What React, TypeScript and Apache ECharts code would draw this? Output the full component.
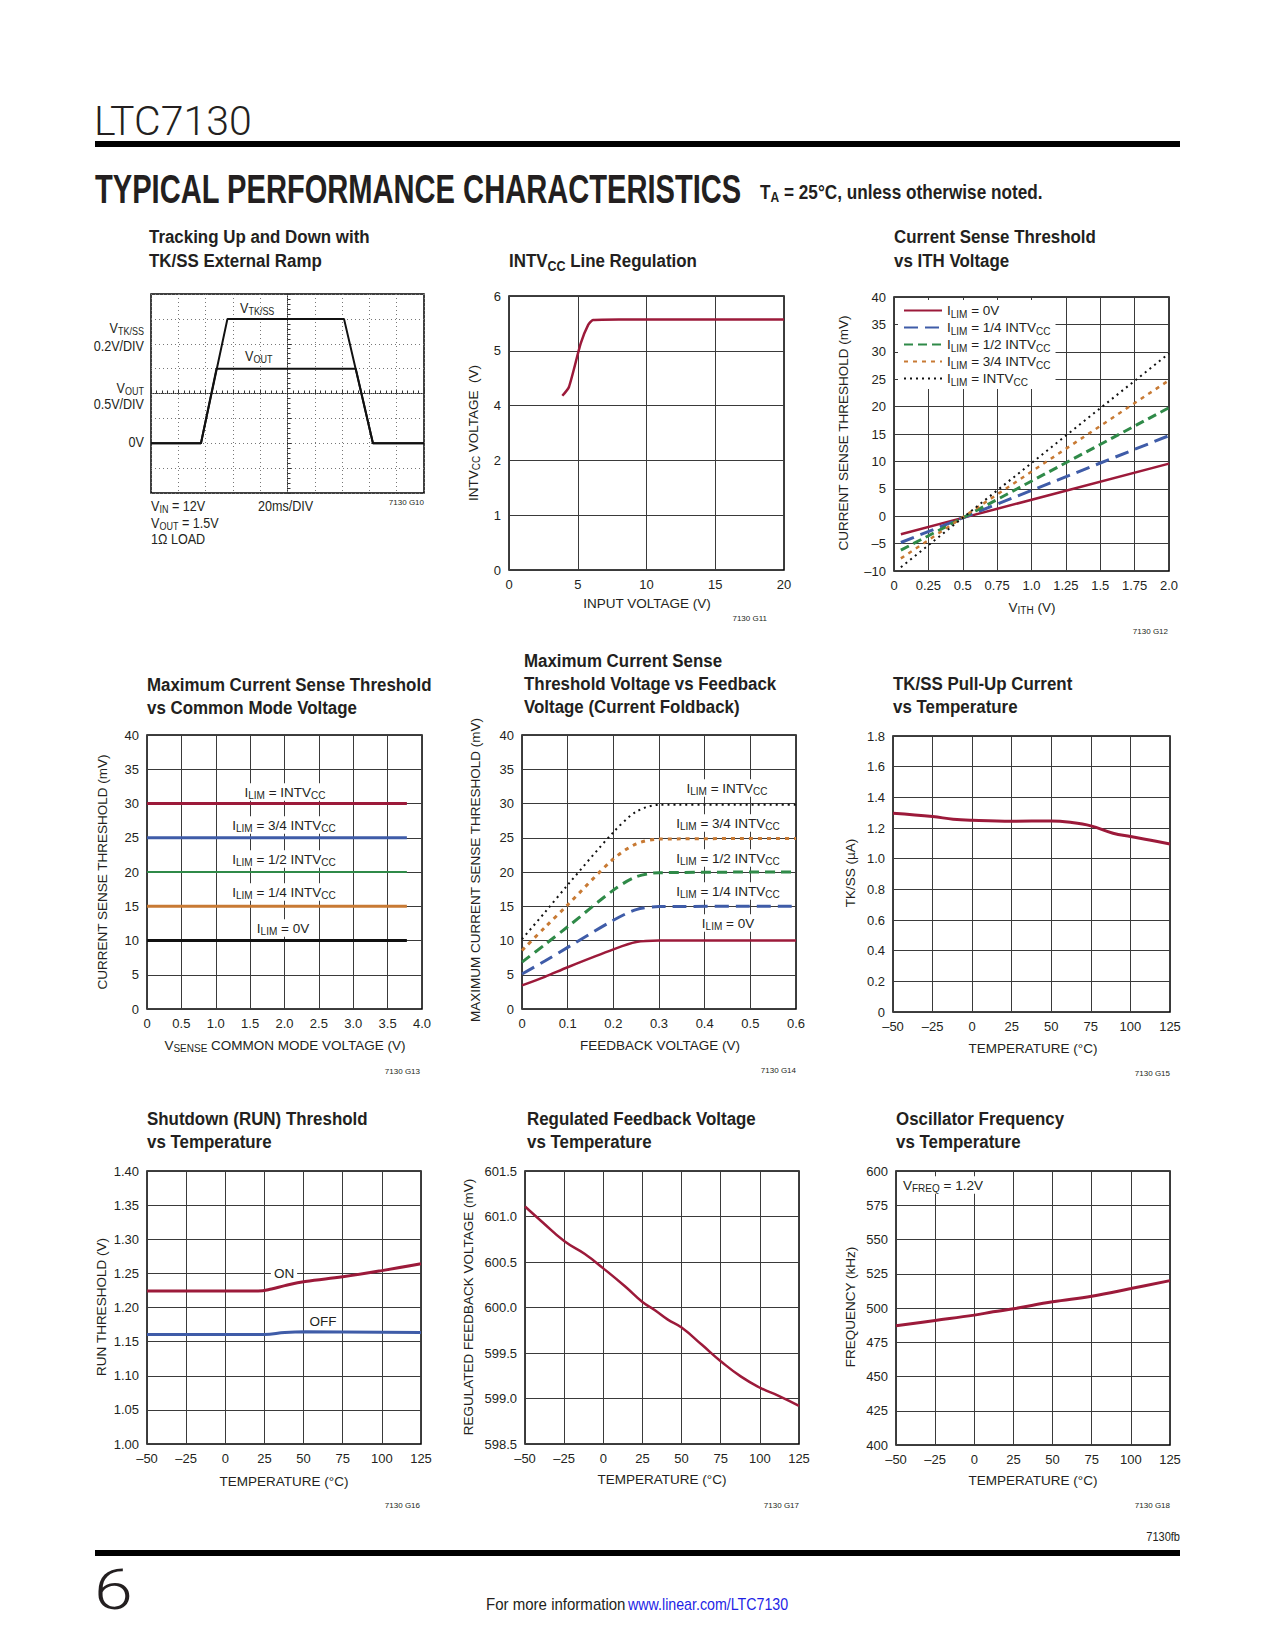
import React, { useEffect, useRef } from 'react';
import * as echarts from 'echarts';

// ---------------- DATA ----------------
// G10 scope traces, in divisions from screen centre (x: 20ms/div, y: div)
const scopeVtkX = [-5, -3.17, -2.2, 2.07, 3.13, 5];
const scopeVtkY = [-2, -2, 3, 3, -2, -2];
const scopeVoutX = [-5, -3.17, -2.6, 2.5, 3.13, 5];
const scopeVoutY = [-2, -2, 1, 1, -2, -2];

// G11 INTVcc line regulation
const intvX = [3.88, 4.36, 5.21, 5.75, 6.11, 8, 20];
const intvY = [4.18, 4.34, 5.13, 5.47, 5.56, 5.57, 5.57];
const intvTicks = [0, 1, 2, 4, 5, 6];

// G12 current sense threshold vs ITH
const ithX = [0.05, 0.5, 2.0];
const ith0 = [-3.3, -0.3, 9.6];
const ith14 = [-4.8, -0.3, 14.7];
const ith12 = [-6.2, -0.3, 19.8];
const ith34 = [-7.7, -0.2, 24.8];
const ith1 = [-9.3, -0.3, 29.7];

// G13 max current sense threshold vs common mode
const cmX = [0, 3.78];
const cm1 = [30, 30];
const cm34 = [25, 25];
const cm12 = [20, 20];
const cm14 = [15, 15];
const cm0 = [10, 10];

// G14 foldback
const fbX = [0, 0.05, 0.1, 0.2, 0.25, 0.3, 0.6];
const fb0 = [3.45, 4.7, 6.1, 8.7, 9.77, 10.0, 10.0];
const fb14 = [5.1, 7.0, 9.0, 12.95, 14.5, 14.95, 15.0];
const fb12 = [6.85, 9.4, 12.0, 17.35, 19.3, 19.9, 20.0];
const fb34 = [8.55, 11.9, 15.2, 21.9, 24.1, 24.8, 24.9];
const fb1 = [10.2, 14.1, 18.1, 25.8, 28.8, 29.8, 29.8];

// G15 TK/SS pull-up current
const tkX = [-50, -25, -12, 0, 25, 50, 62, 75, 89, 100, 112, 125];
const tkY = [1.296, 1.275, 1.257, 1.25, 1.244, 1.246, 1.237, 1.214, 1.166, 1.144, 1.122, 1.096];

// G16 RUN threshold
const onX = [-50, 0, 21, 29.5, 38, 51, 75, 100, 125];
const onY = [1.224, 1.224, 1.224, 1.227, 1.232, 1.238, 1.245, 1.254, 1.264];
const offX = [-50, 25, 38, 51, 125];
const offY = [1.1605, 1.1605, 1.1634, 1.1644, 1.1634];

// G17 regulated feedback voltage
const rfX = [-50, -39, -25, -12, 0, 14, 25, 33, 41, 50, 63, 75, 88, 100, 112, 125];
const rfY = [601.11, 600.94, 600.73, 600.59, 600.43, 600.23, 600.06, 599.97, 599.87, 599.78, 599.59, 599.41, 599.24, 599.12, 599.03, 598.92];

// G18 oscillator frequency
const osX = [-50, -25, 0, 12, 25, 50, 75, 100, 125];
const osY = [487.0, 490.9, 494.8, 497.2, 499.4, 504.5, 508.6, 514.2, 520.0];

const ilimNames = ['ILIM = 0V', 'ILIM = 1/4 INTVCC', 'ILIM = 1/2 INTVCC', 'ILIM = 3/4 INTVCC', 'ILIM = INTVCC'];
const ilimRich = [
  '{n|I}{s|LIM}{n| = 0V}',
  '{n|I}{s|LIM}{n| = 1/4 INTV}{s|CC}',
  '{n|I}{s|LIM}{n| = 1/2 INTV}{s|CC}',
  '{n|I}{s|LIM}{n| = 3/4 INTV}{s|CC}',
  '{n|I}{s|LIM}{n| = INTV}{s|CC}',
];

// ---------------- STYLE ----------------
const RED = '#9c1a3a';
const BLUE = '#3f5ca8';
const GREEN = '#2f8a48';
const ORANGE = '#c87a34';
const INK = '#231f20';
const FONT = 'Liberation Sans, Arial, sans-serif';

const zip = (xs: number[], ys: number[]) => xs.map((x, i) => [x, ys[i]]);
const dash = (v: number) => (v < 0 ? '\u2013' + Math.abs(v) : String(v));

const rich = (size: number, weight = 'normal') => ({
  n: { fontFamily: FONT, fontSize: size, fontWeight: weight, lineHeight: size + 2, verticalAlign: 'middle', fill: INK, color: INK },
  s: {
    fontFamily: FONT, fontSize: Math.round(size * 0.74), fontWeight: weight, lineHeight: Math.round(size * 0.74),
    padding: [Math.round(size * 0.5), 0, 0, 0], verticalAlign: 'middle', fill: INK, color: INK,
  },
});

function T(text: string, x: number, y: number, o: any = {}) {
  const align = o.align || 'left';
  const style: any = {
    text,
    fill: o.color || INK,
    fontFamily: o.family || FONT,
    fontSize: o.size || 13.5,
    fontWeight: o.weight || 'normal',
    align,
    textAlign: align,
    verticalAlign: 'middle',
    textVerticalAlign: 'middle',
  };
  if (o.rich) style.rich = o.rich;
  if (o.bg) {
    style.backgroundColor = o.bg;
    style.padding = [1, 3, 1, 3];
  }
  return {
    type: 'text',
    x,
    y,
    z: 100,
    silent: true,
    rotation: o.rot || 0,
    scaleX: o.sx || 1,
    style,
  };
}

const GRIDS = [
  { left: 151, top: 294, width: 273, height: 199 },
  { left: 509, top: 296, width: 275, height: 274 },
  { left: 894, top: 297, width: 275, height: 274 },
  { left: 147, top: 735, width: 275, height: 274 },
  { left: 522, top: 735, width: 274, height: 274 },
  { left: 893, top: 736, width: 277, height: 276 },
  { left: 147, top: 1171, width: 274, height: 273 },
  { left: 525, top: 1171, width: 274, height: 273 },
  { left: 896, top: 1171, width: 274, height: 274 },
];

const labelStyle = { fontFamily: FONT, fontSize: 13, color: INK };

function xAx(i: number, min: number, max: number, interval: number, fmt: (v: number) => string) {
  return {
    gridIndex: i, type: 'value', min, max, interval,
    axisLine: { show: false }, axisTick: { show: false },
    splitLine: { show: true, lineStyle: { color: '#3a3a3a', width: 1 } },
    axisLabel: { ...labelStyle, margin: 8, formatter: fmt },
  };
}
function yAx(i: number, min: number, max: number, interval: number, fmt: (v: number) => string) {
  return {
    gridIndex: i, type: 'value', min, max, interval,
    axisLine: { show: false }, axisTick: { show: false },
    splitLine: { show: true, lineStyle: { color: '#3a3a3a', width: 1 } },
    axisLabel: { ...labelStyle, margin: 8, formatter: fmt },
  };
}

function line(name: string, gi: number, data: number[][], color: string, width: number, type: any = 'solid', smooth: any = false) {
  return {
    type: 'line', name, xAxisIndex: gi, yAxisIndex: gi, data,
    symbol: 'none', showSymbol: false, smooth, z: 5,
    lineStyle: { color, width, type, cap: 'butt' },
    itemStyle: { color },
  };
}

function buildOption() {
  const grid = GRIDS.map((g) => ({
    ...g, show: true, borderColor: '#000', borderWidth: 1.5,
    backgroundColor: 'rgba(0,0,0,0)', containLabel: false, outerBoundsMode: 'none',
  }));

  const fmt1 = (v: number) => (v === 0 ? '0' : v.toFixed(1));
  const xAxis: any[] = [
    {
      gridIndex: 0, type: 'value', min: -5, max: 5, interval: 1,
      axisLine: { show: true, onZero: true, lineStyle: { color: '#333', width: 1, type: 'dotted' } },
      axisTick: { show: true, inside: true, length: 4, lineStyle: { color: '#333' } },
      minorTick: { show: true, splitNumber: 5, length: 3, lineStyle: { color: '#333' } },
      splitLine: { show: true, lineStyle: { color: '#777', width: 1, type: [1, 3] } },
      axisLabel: { show: false },
    },
    xAx(1, 0, 20, 5, (v) => String(v)),
    xAx(2, 0, 2, 0.25, (v) => (v === 0 ? '0' : Math.round(v * 100) % 50 === 0 ? v.toFixed(1) : v.toFixed(2))),
    xAx(3, 0, 4, 0.5, fmt1),
    xAx(4, 0, 0.6, 0.1, fmt1),
    xAx(5, -50, 125, 25, dash),
    xAx(6, -50, 125, 25, dash),
    xAx(7, -50, 125, 25, dash),
    xAx(8, -50, 125, 25, dash),
  ];
  const yAxis: any[] = [
    {
      gridIndex: 0, type: 'value', min: -4, max: 4, interval: 1,
      axisLine: { show: true, onZero: true, lineStyle: { color: '#333', width: 1, type: 'dotted' } },
      axisTick: { show: true, inside: true, length: 4, lineStyle: { color: '#333' } },
      minorTick: { show: true, splitNumber: 5, length: 3, lineStyle: { color: '#333' } },
      splitLine: { show: true, lineStyle: { color: '#777', width: 1, type: [1, 3] } },
      axisLabel: { show: false },
    },
    yAx(1, 0, 5, 1, (v) => String(intvTicks[Math.round(v)])),
    yAx(2, -10, 40, 5, dash),
    yAx(3, 0, 40, 5, (v) => String(v)),
    yAx(4, 0, 40, 5, (v) => String(v)),
    yAx(5, 0, 1.8, 0.2, fmt1),
    yAx(6, 1.0, 1.4, 0.05, (v) => v.toFixed(2)),
    yAx(7, 598.5, 601.5, 0.5, (v) => v.toFixed(1)),
    yAx(8, 400, 600, 25, (v) => String(Math.round(v))),
  ];

  const brokenY = (v: number) => (v >= 3 ? v - 1 : v);

  const series: any[] = [
    line('VTK/SS trace', 0, zip(scopeVtkX, scopeVtkY), '#111', 2),
    line('VOUT trace', 0, zip(scopeVoutX, scopeVoutY), '#111', 2),
    line('INTVCC', 1, zip(intvX, intvY.map(brokenY)), RED, 2.5, 'solid', 0.2),
    line(ilimNames[0], 2, zip(ithX, ith0), RED, 2.5),
    line(ilimNames[1], 2, zip(ithX, ith14), BLUE, 3, [14, 7]),
    line(ilimNames[2], 2, zip(ithX, ith12), GREEN, 3, [9, 5]),
    line(ilimNames[3], 2, zip(ithX, ith34), ORANGE, 2.5, [4, 5]),
    line(ilimNames[4], 2, zip(ithX, ith1), '#111', 2, [2, 4]),
    line('G13 INTVCC', 3, zip(cmX, cm1), RED, 3),
    line('G13 3/4', 3, zip(cmX, cm34), BLUE, 3),
    line('G13 1/2', 3, zip(cmX, cm12), GREEN, 2),
    line('G13 1/4', 3, zip(cmX, cm14), ORANGE, 3),
    line('G13 0V', 3, zip(cmX, cm0), '#111', 3),
    line('G14 0V', 4, zip(fbX, fb0), RED, 2.5, 'solid', 0.3),
    line('G14 1/4', 4, zip(fbX, fb14), BLUE, 3, [14, 7], 0.3),
    line('G14 1/2', 4, zip(fbX, fb12), GREEN, 3, [10, 6], 0.3),
    line('G14 3/4', 4, zip(fbX, fb34), ORANGE, 3, [4, 5], 0.3),
    line('G14 INTVCC', 4, zip(fbX, fb1), '#111', 2, [2, 4], 0.3),
    line('TK/SS', 5, zip(tkX, tkY), RED, 3, 'solid', 0.4),
    line('ON', 6, zip(onX, onY), RED, 3, 'solid', 0.4),
    line('OFF', 6, zip(offX, offY), BLUE, 3, 'solid', 0.4),
    line('VFB', 7, zip(rfX, rfY), RED, 2.5, 'solid', 0.5),
    line('FREQ', 8, zip(osX, osY), RED, 3, 'solid', 0.4),
  ];

  const r13 = rich(13.5);
  const r14 = rich(14);
  const rB = rich(19, 'bold');
  const tsx = 0.89;
  const titleO = { size: 19, weight: 'bold', sx: tsx };
  const code = (t: string, x: number, y: number) => T(t, x, y, { size: 8, align: 'right' });
  const rot = Math.PI / 2;

  const graphic: any[] = [
    // header
    T('LTC7130', 94, 121, { size: 41, family: 'Roboto, Liberation Sans, sans-serif', weight: 300 }),
    { type: 'rect', shape: { x: 95, y: 141, width: 1085, height: 6 }, style: { fill: '#000' }, silent: true },
    T('TYPICAL PERFORMANCE CHARACTERISTICS', 95, 189, { size: 41, weight: 'bold', sx: 0.71 }),
    T('{n|T}{s|A}{n| = 25°C, unless otherwise noted.}', 760, 192, {
      sx: 0.86,
      rich: {
        n: { fontFamily: FONT, fontSize: 20, fontWeight: 'bold', lineHeight: 22, verticalAlign: 'middle', fill: INK },
        s: { fontFamily: FONT, fontSize: 14, fontWeight: 'bold', lineHeight: 14, padding: [10, 0, 0, 0], verticalAlign: 'middle', fill: INK },
      },
    }),

    // G10 scope
    T('Tracking Up and Down with', 149, 237, titleO),
    T('TK/SS External Ramp', 149, 261, titleO),
    T('{n|V}{s|TK/SS}', 240, 308, { rich: r14, sx: 0.9 }),
    T('{n|V}{s|TK/SS}', 144, 328, { rich: r14, sx: 0.9, align: 'right' }),
    T('0.2V/DIV', 144, 346, { size: 14, sx: 0.9, align: 'right' }),
    T('{n|V}{s|OUT}', 144, 388, { rich: r14, sx: 0.9, align: 'right' }),
    T('0.5V/DIV', 144, 404, { size: 14, sx: 0.9, align: 'right' }),
    T('0V', 144, 442, { size: 14, sx: 0.9, align: 'right' }),
    T('{n|V}{s|OUT}', 245, 356, { rich: r14, sx: 0.9 }),
    T('{n|V}{s|IN}{n| = 12V}', 151, 506, { rich: r14, sx: 0.9 }),
    T('{n|V}{s|OUT}{n| = 1.5V}', 151, 523, { rich: r14, sx: 0.9 }),
    T('1\u03A9 LOAD', 151, 539, { size: 14, sx: 0.9 }),
    T('20ms/DIV', 258, 506, { size: 14, sx: 0.9 }),
    code('7130 G10', 424, 502),

    // G11
    T('{n|INTV}{s|CC}{n| Line Regulation}', 509, 261, { rich: rB, sx: tsx }),
    T('{n|INTV}{s|CC}{n| VOLTAGE  (V)}', 473, 433, { rich: r13, rot, align: 'center' }),
    T('INPUT VOLTAGE (V)', 647, 603, { align: 'center' }),
    code('7130 G11', 767, 618),

    // G12
    T('Current Sense Threshold', 894, 237, titleO),
    T('vs ITH Voltage', 894, 261, titleO),
    T('CURRENT SENSE THRESHOLD (mV)', 843, 433, { rot, align: 'center' }),
    T('{n|V}{s|ITH}{n| (V)}', 1032, 607, { rich: r13, align: 'center' }),
    code('7130 G12', 1168, 631),

    // G13
    T('Maximum Current Sense Threshold', 147, 685, titleO),
    T('vs Common Mode Voltage', 147, 708, titleO),
    T('CURRENT SENSE THRESHOLD (mV)', 102, 872, { rot, align: 'center' }),
    T('{n|V}{s|SENSE}{n| COMMON MODE VOLTAGE (V)}', 285, 1045, { rich: r13, align: 'center' }),
    code('7130 G13', 420, 1071),
    T(ilimRich[4], 285, 792, { rich: r13, align: 'center', bg: '#fff' }),
    T(ilimRich[3], 284, 825, { rich: r13, align: 'center', bg: '#fff' }),
    T(ilimRich[2], 284, 859, { rich: r13, align: 'center', bg: '#fff' }),
    T(ilimRich[1], 284, 892, { rich: r13, align: 'center', bg: '#fff' }),
    T(ilimRich[0], 283, 928, { rich: r13, align: 'center', bg: '#fff' }),

    // G14
    T('Maximum Current Sense', 524, 661, titleO),
    T('Threshold Voltage vs Feedback', 524, 684, titleO),
    T('Voltage (Current Foldback)', 524, 707, titleO),
    T('MAXIMUM CURRENT SENSE THRESHOLD (mV)', 475, 870, { rot, align: 'center' }),
    T('FEEDBACK VOLTAGE (V)', 660, 1045, { align: 'center' }),
    code('7130 G14', 796, 1070),
    T(ilimRich[4], 727, 788, { rich: r13, align: 'center', bg: '#fff' }),
    T(ilimRich[3], 728, 823, { rich: r13, align: 'center', bg: '#fff' }),
    T(ilimRich[2], 728, 858, { rich: r13, align: 'center', bg: '#fff' }),
    T(ilimRich[1], 728, 891, { rich: r13, align: 'center', bg: '#fff' }),
    T(ilimRich[0], 728, 923, { rich: r13, align: 'center', bg: '#fff' }),

    // G15
    T('TK/SS Pull-Up Current', 893, 684, titleO),
    T('vs Temperature', 893, 707, titleO),
    T('TK/SS (\u00B5A)', 850, 873, { rot, align: 'center' }),
    T('TEMPERATURE (\u00B0C)', 1033, 1048, { align: 'center' }),
    code('7130 G15', 1170, 1073),

    // G16
    T('Shutdown (RUN) Threshold', 147, 1119, titleO),
    T('vs Temperature', 147, 1142, titleO),
    T('RUN THRESHOLD (V)', 101, 1307, { rot, align: 'center' }),
    T('TEMPERATURE (\u00B0C)', 284, 1481, { align: 'center' }),
    code('7130 G16', 420, 1505),
    T('ON', 284, 1273, { align: 'center', bg: '#fff' }),
    T('OFF', 323, 1321, { align: 'center' }),

    // G17
    T('Regulated Feedback Voltage', 527, 1119, titleO),
    T('vs Temperature', 527, 1142, titleO),
    T('REGULATED FEEDBACK VOLTAGE (mV)', 468, 1307, { rot, align: 'center' }),
    T('TEMPERATURE (\u00B0C)', 662, 1479, { align: 'center' }),
    code('7130 G17', 799, 1505),

    // G18
    T('Oscillator Frequency', 896, 1119, titleO),
    T('vs Temperature', 896, 1142, titleO),
    T('FREQUENCY (kHz)', 850, 1307, { rot, align: 'center' }),
    T('TEMPERATURE (\u00B0C)', 1033, 1480, { align: 'center' }),
    code('7130 G18', 1170, 1505),
    T('{n|V}{s|FREQ}{n| = 1.2V}', 900, 1185, { rich: r13, bg: '#fff' }),

    // footer
    T('7130fb', 1180, 1537, { size: 13, sx: 0.85, align: 'right' }),
    { type: 'rect', shape: { x: 95, y: 1550, width: 1085, height: 6 }, style: { fill: '#000' }, silent: true },
    T('6', 94, 1590, { size: 56, family: 'Roboto, Liberation Sans, sans-serif', weight: 300, sx: 1.25 }),
    T('For more information', 486, 1604, { size: 16, sx: 0.94 }),
    T('www.linear.com/LTC7130', 628, 1604, { size: 16, sx: 0.89, color: '#1f1fe6' }),
  ];

  const legend = {
    show: true,
    data: ilimNames,
    left: 898,
    top: 300,
    orient: 'vertical',
    itemWidth: 38,
    itemHeight: 12,
    itemGap: 0,
    padding: [2, 5, 2, 5],
    backgroundColor: '#fff',
    selectedMode: false,
    z: 20,
    itemStyle: { color: 'rgba(0,0,0,0)', borderColor: 'rgba(0,0,0,0)', borderWidth: 0, opacity: 0 },
    textStyle: { fontFamily: FONT, fontSize: 13.5, color: INK, rich: rich(13.5) },
    formatter: (name: string) => ilimRich[ilimNames.indexOf(name)],
  };

  return {
    animation: false,
    backgroundColor: '#fff',
    grid,
    xAxis,
    yAxis,
    series,
    legend,
    graphic: { elements: graphic },
  };
}

export default function App() {
  const ref = useRef<HTMLDivElement>(null);
  useEffect(() => {
    if (!ref.current) return;
    const chart = echarts.init(ref.current, null, { renderer: 'svg' });
    chart.setOption(buildOption() as any);
    return () => chart.dispose();
  }, []);
  return (
    <div
      ref={ref}
      style={{ position: 'absolute', left: 0, top: 0, width: 1275, height: 1650, background: '#fff' }}
    />
  );
}
